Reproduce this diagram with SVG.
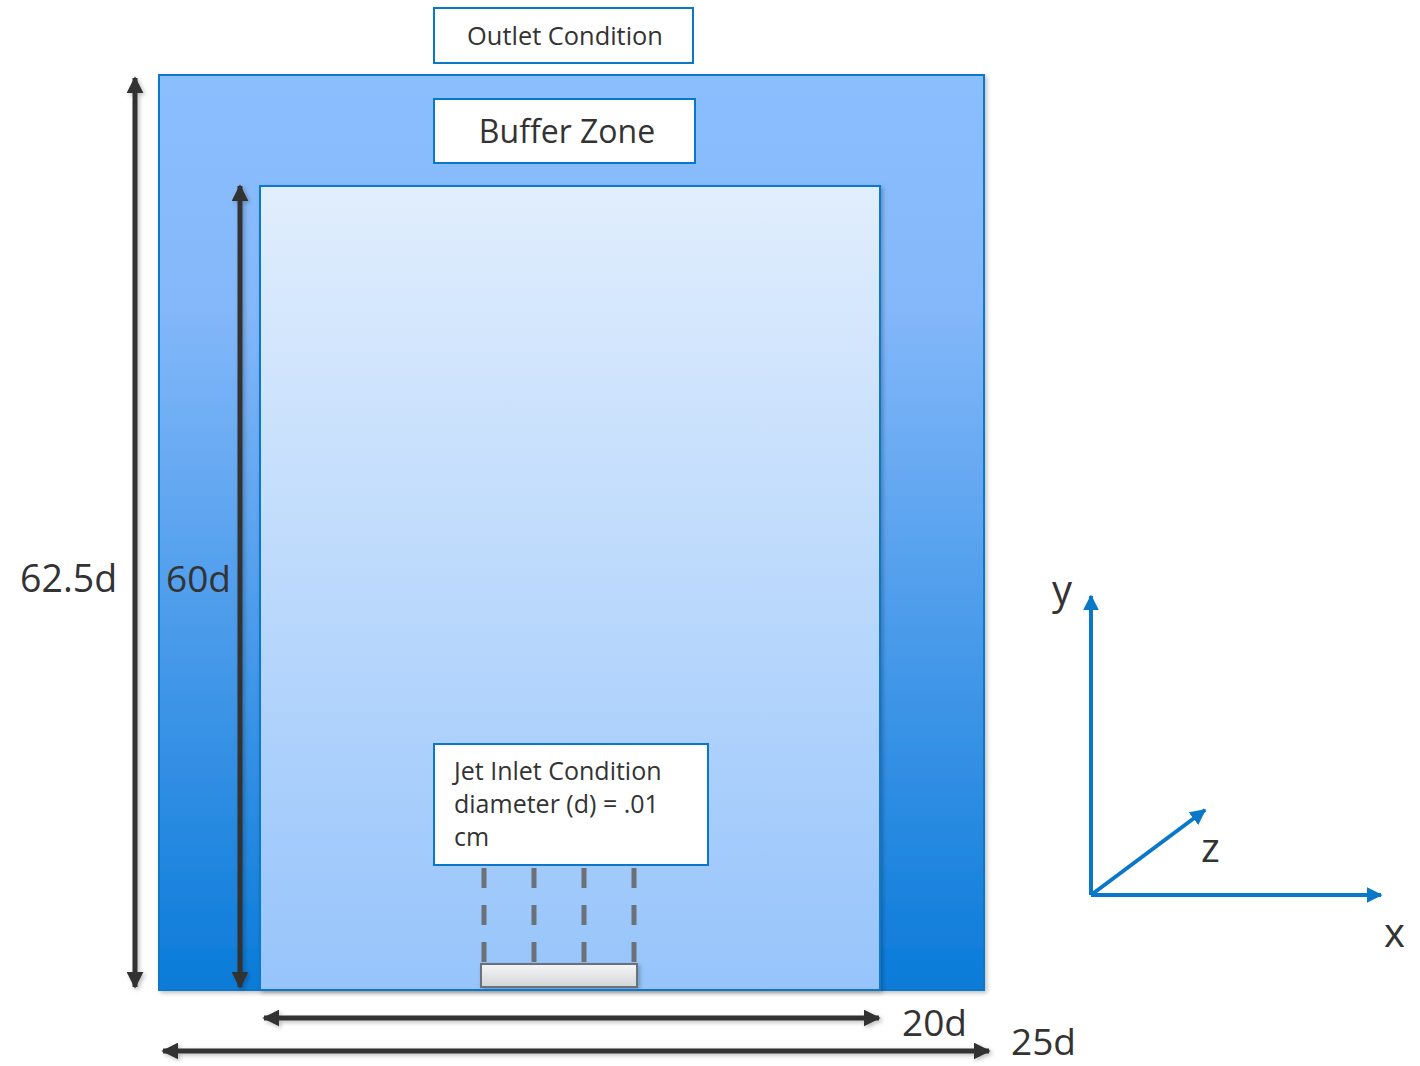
<svg xmlns="http://www.w3.org/2000/svg" width="1420" height="1066" viewBox="0 0 1420 1066">
<style>
  .lbl { font-family: "Open Sans", "Noto Sans", "Liberation Sans", sans-serif; fill: #333333; }
  .box { fill: #ffffff; stroke: #0a78c8; stroke-width: 2; }
  .dim { stroke: #333333; stroke-width: 5; fill: none; }
  .axis { stroke: #0a78c8; stroke-width: 4; fill: none; }
  .jet { stroke: #6b7178; stroke-width: 5; stroke-dasharray: 20 17; fill: none; }
</style>
<defs>
  <linearGradient id="gOuter" x1="0" y1="0" x2="0" y2="1">
    <stop offset="0" stop-color="#8bbefd"/>
    <stop offset="0.25" stop-color="#84b8fa"/>
    <stop offset="1" stop-color="#0a7bd9"/>
  </linearGradient>
  <linearGradient id="gInner" x1="0" y1="0" x2="0" y2="1">
    <stop offset="0" stop-color="#e1eefd"/>
    <stop offset="1" stop-color="#96c4fb"/>
  </linearGradient>
  <linearGradient id="gNozzle" x1="0" y1="0" x2="0" y2="1">
    <stop offset="0" stop-color="#f4f5f6"/>
    <stop offset="1" stop-color="#d3d6d9"/>
  </linearGradient>
  <filter id="sh" x="-5%" y="-5%" width="112%" height="112%">
    <feDropShadow dx="2" dy="2" stdDeviation="2" flood-color="#000" flood-opacity="0.25"/>
  </filter>
  <filter id="shl" filterUnits="userSpaceOnUse" x="0" y="0" width="1420" height="1066">
    <feDropShadow dx="2" dy="2" stdDeviation="2" flood-color="#000" flood-opacity="0.25"/>
  </filter>
  <marker id="ah" viewBox="0 0 10 10" refX="9" refY="5" markerWidth="3.4" markerHeight="3.4" orient="auto-start-reverse" markerUnits="strokeWidth">
    <path d="M0,0 L10,5 L0,10 z" fill="#333333"/>
  </marker>
  <marker id="ahb" viewBox="0 0 10 10" refX="9" refY="5" markerWidth="4" markerHeight="4" orient="auto" markerUnits="strokeWidth">
    <path d="M0,0 L10,5 L0,10 z" fill="#0a78c8"/>
  </marker>
</defs>

<g id="outer-domain">
  <rect x="159" y="75" width="825" height="915" fill="url(#gOuter)" stroke="#0a78c8" stroke-width="2" filter="url(#sh)"/>
</g>
<g id="inner-domain">
  <rect x="260" y="186" width="620" height="804" fill="url(#gInner)" stroke="#0a78c8" stroke-width="2" filter="url(#sh)"/>
</g>

<g id="outlet-condition">
  <rect class="box" x="434" y="8" width="259" height="55"/>
  <text class="lbl" x="565" y="45" font-size="25.4" text-anchor="middle">Outlet Condition</text>
</g>

<g id="buffer-zone">
  <rect class="box" x="434" y="99" width="261" height="64"/>
  <text class="lbl" x="567" y="143" font-size="32" text-anchor="middle">Buffer Zone</text>
</g>

<g id="jet-inlet">
  <rect class="box" x="434" y="744" width="274" height="121"/>
  <text class="lbl" x="454" y="780" font-size="25">Jet Inlet Condition</text>
  <text class="lbl" x="454" y="813" font-size="25">diameter (d) = .01</text>
  <text class="lbl" x="454" y="846" font-size="25">cm</text>
</g>

<g id="nozzle">
  <rect x="481" y="964" width="156" height="23" fill="url(#gNozzle)" stroke="#6b7178" stroke-width="2" filter="url(#sh)"/>
</g>

<g id="connectors">
  <line class="jet" x1="484" y1="868" x2="484" y2="964"/>
  <line class="jet" x1="534" y1="868" x2="534" y2="964"/>
  <line class="jet" x1="584" y1="868" x2="584" y2="964"/>
  <line class="jet" x1="634" y1="868" x2="634" y2="964"/>

  <line class="dim" x1="135" y1="78" x2="135" y2="987" marker-start="url(#ah)" marker-end="url(#ah)" filter="url(#shl)"/>
  <line class="dim" x1="240" y1="186" x2="240" y2="987" marker-start="url(#ah)" marker-end="url(#ah)" filter="url(#shl)"/>
  <line class="dim" x1="264" y1="1018" x2="879" y2="1018" marker-start="url(#ah)" marker-end="url(#ah)" filter="url(#shl)"/>
  <line class="dim" x1="163" y1="1051" x2="989" y2="1051" marker-start="url(#ah)" marker-end="url(#ah)" filter="url(#shl)"/>

  <line class="axis" x1="1091" y1="895" x2="1091" y2="596" marker-end="url(#ahb)"/>
  <line class="axis" x1="1091" y1="895" x2="1381" y2="895" marker-end="url(#ahb)"/>
  <line class="axis" x1="1091" y1="895" x2="1205" y2="810" marker-end="url(#ahb)"/>
</g>

<g id="labels">
  <text class="lbl" x="20" y="592" font-size="37.5">62.5d</text>
  <text class="lbl" x="166" y="592" font-size="37">60d</text>
  <text class="lbl" x="902" y="1036" font-size="37">20d</text>
  <text class="lbl" x="1011" y="1055" font-size="37">25d</text>
  <text class="lbl" x="1052" y="604" font-size="40">y</text>
  <text class="lbl" x="1201" y="862" font-size="40">z</text>
  <text class="lbl" x="1384" y="947" font-size="40">x</text>
</g>
</svg>
